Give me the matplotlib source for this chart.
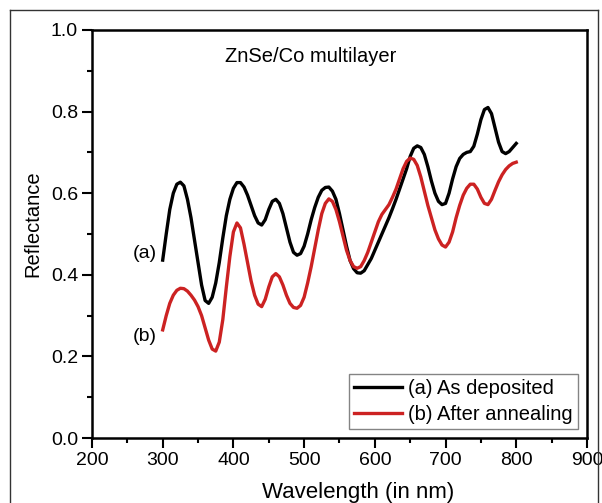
import matplotlib.pyplot as plt
from matplotlib.lines import Line2D
from matplotlib.ticker import MultipleLocator

plt.rcParams["font.family"] = ["Liberation Sans", "DejaVu Sans"]

# values, every 5 nm
wavelength = [300, 305, 310, 315, 320, 325, 330, 335, 340, 345, 350, 355, 360, 365, 370,
              375, 380, 385, 390, 395, 400, 405, 410, 415, 420, 425, 430, 435, 440, 445,
              450, 455, 460, 465, 470, 475, 480, 485, 490, 495, 500, 505, 510, 515, 520,
              525, 530, 535, 540, 545, 550, 555, 560, 565, 570, 575, 580, 585, 590, 595,
              600, 605, 610, 615, 620, 625, 630, 635, 640, 645, 650, 655, 660, 665, 670,
              675, 680, 685, 690, 695, 700, 705, 710, 715, 720, 725, 730, 735, 740, 745,
              750, 755, 760, 765, 770, 775, 780, 785, 790, 795, 800]

as_deposited = [0.436, 0.50, 0.56, 0.60, 0.622, 0.627, 0.618, 0.585, 0.54, 0.485,
                0.43, 0.375, 0.337, 0.33, 0.345, 0.38, 0.43, 0.49, 0.545, 0.585,
                0.612, 0.626, 0.626, 0.615, 0.595, 0.57, 0.545, 0.527, 0.522, 0.535,
                0.56, 0.58, 0.585, 0.575, 0.55, 0.515, 0.48, 0.455, 0.448, 0.452,
                0.47, 0.50, 0.535, 0.565, 0.59, 0.607, 0.614, 0.615, 0.605, 0.585,
                0.55, 0.51, 0.47, 0.435, 0.415, 0.405, 0.404, 0.41, 0.425, 0.44,
                0.46, 0.48, 0.50, 0.52, 0.54, 0.562, 0.585, 0.61, 0.635, 0.66,
                0.69, 0.71, 0.716, 0.712, 0.695, 0.665, 0.63, 0.60, 0.58, 0.572,
                0.575, 0.60, 0.635, 0.665, 0.685, 0.695, 0.70, 0.702, 0.715, 0.745,
                0.78, 0.805, 0.81, 0.795, 0.76, 0.725, 0.702, 0.697, 0.702, 0.712,
                0.722]

after_annealing = [0.265, 0.30, 0.33, 0.35, 0.362, 0.367, 0.366, 0.36, 0.35, 0.338,
                   0.322, 0.30, 0.27, 0.24, 0.218, 0.213, 0.235, 0.29, 0.37, 0.445,
                   0.505, 0.527, 0.515, 0.475, 0.43, 0.385, 0.35, 0.328, 0.322, 0.34,
                   0.37, 0.395, 0.403, 0.395, 0.375, 0.35, 0.33, 0.32, 0.318, 0.325,
                   0.345, 0.38, 0.42, 0.465, 0.51, 0.55, 0.575, 0.586, 0.58, 0.56,
                   0.53, 0.495, 0.46, 0.435, 0.42, 0.416, 0.42, 0.435, 0.455, 0.48,
                   0.505, 0.53, 0.548, 0.56, 0.572, 0.59, 0.61, 0.635, 0.66, 0.678,
                   0.686, 0.683, 0.668, 0.64, 0.605, 0.57, 0.54, 0.51, 0.488, 0.473,
                   0.468, 0.48, 0.505, 0.54, 0.57, 0.595, 0.612, 0.622, 0.622, 0.61,
                   0.59, 0.575, 0.572, 0.585, 0.607, 0.628, 0.645, 0.658, 0.667, 0.673,
                   0.676]

fig = plt.figure(figsize=(6.02, 5.03), dpi=100)
ax = fig.add_axes([0.1528, 0.1292, 0.8222, 0.8112])

ax.plot(wavelength, as_deposited, color="black", lw=2.4,
        solid_joinstyle="round", label="(a) As deposited")
ax.plot(wavelength, after_annealing, color="#cc2222", lw=2.4,
        solid_joinstyle="round", label="(b) After annealing")

ax.set_xlim(200, 900)
ax.set_ylim(0, 1.0)
ax.xaxis.set_major_locator(MultipleLocator(100))
ax.xaxis.set_minor_locator(MultipleLocator(50))
ax.yaxis.set_major_locator(MultipleLocator(0.2))
ax.yaxis.set_minor_locator(MultipleLocator(0.1))
ax.tick_params(which="major", direction="out", length=7, width=1.5, labelsize=14,
               top=False, right=False, pad=3)
ax.tick_params(which="minor", direction="out", length=3.5, width=1.5, top=False, right=False)
for sp in ax.spines.values():
    sp.set_linewidth(1.8)

ax.set_xlabel("Wavelength (in nm)", fontsize=16)
ax.xaxis.set_label_coords(0.538, -0.107)
ax.set_ylabel("Reflectance", fontsize=14.5)
ax.yaxis.set_label_coords(-0.10, 0.525)

ax.text(388, 0.934, "ZnSe/Co multilayer", fontsize=14.5, ha="left", va="center")
ax.text(292, 0.453, "(a)", fontsize=14, ha="right", va="center")
ax.text(292, 0.248, "(b)", fontsize=14, ha="right", va="center")

leg = ax.legend(loc="lower right", fontsize=14.5, frameon=True, fancybox=False,
                edgecolor="#666666", handlelength=2.4, handletextpad=0.3,
                borderpad=0.25, labelspacing=0.35, borderaxespad=0.45)
leg.get_frame().set_linewidth(1.0)

# outer frame around the figure
for xs, ys in [([10 / 602, 10 / 602], [0, 493 / 503]),
               ([10 / 602, 598 / 602], [493 / 503, 493 / 503]),
               ([598 / 602, 598 / 602], [0, 493 / 503])]:
    fig.add_artist(Line2D(xs, ys, color="#333333", lw=1.0))

fig.savefig("out.png", dpi=100)
